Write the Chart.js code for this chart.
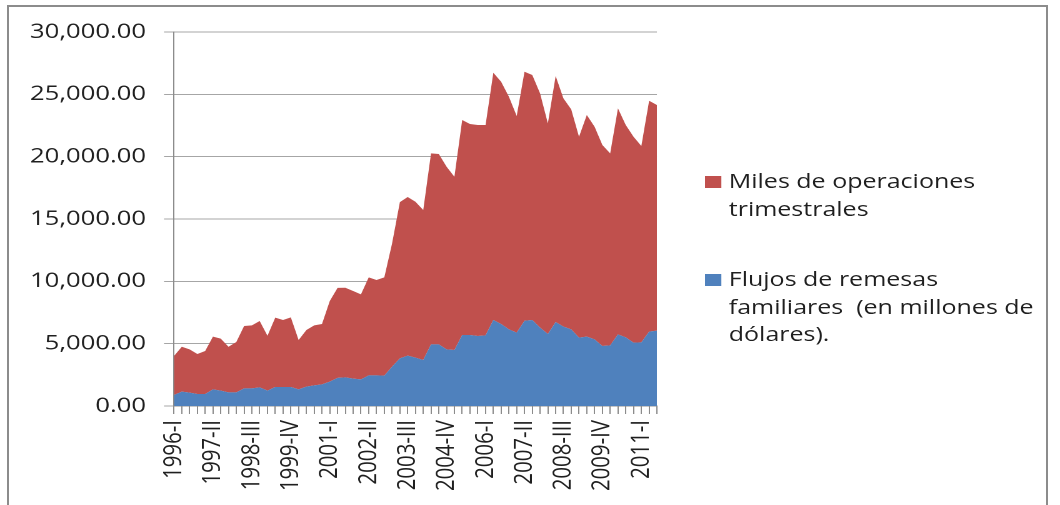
<!DOCTYPE html>
<html>
<head>
<meta charset="utf-8">
<script src="https://cdn.jsdelivr.net/npm/chart.js@4.4.1/dist/chart.umd.min.js"></script>
<style>
  html, body { margin: 0; padding: 0; background: #fff; overflow: hidden; }
  body { width: 1060px; height: 505px; position: relative; }
  #frame {
    position: absolute; left: 7px; top: 5px; width: 1041px; height: 520px;
    border: 2px solid #8c8c8c; box-sizing: border-box;
  }
  /* the reference is stretched sideways, so the whole drawing is too */
  #stage {
    position: absolute; left: 0; top: 0; width: 848px; height: 505px;
    transform: scaleX(1.25); transform-origin: 0 0;
  }
  #chart { position: absolute; left: 0; top: 0; }
  .lg-box { position: absolute; left: 564px; width: 12.5px; height: 12px; }
  .lg-text {
    position: absolute; left: 583px; font-family: 'Open Sans', sans-serif;
    font-size: 20px; line-height: 27.5px; color: #1f1f1f; white-space: pre;
  }
</style>
</head>
<body>
<div id="frame"></div>
<div id="stage">
  <canvas id="chart" width="556" height="505"></canvas>
  <div class="lg-box" style="top:176px;background:#C0504D"></div>
  <div class="lg-text" style="top:167px">Miles de operaciones
trimestrales</div>
  <div class="lg-box" style="top:274px;background:#4F81BD"></div>
  <div class="lg-text" style="top:265px">Flujos de remesas
familiares  (en millones de
dólares).</div>
</div>
<script>
  'use strict';

  const quarters = [
    '1996-I','1996-II','1996-III','1996-IV','1997-I','1997-II','1997-III','1997-IV',
    '1998-I','1998-II','1998-III','1998-IV','1999-I','1999-II','1999-III','1999-IV',
    '2000-I','2000-II','2000-III','2000-IV','2001-I','2001-II','2001-III','2001-IV',
    '2002-I','2002-II','2002-III','2002-IV','2003-I','2003-II','2003-III','2003-IV',
    '2004-I','2004-II','2004-III','2004-IV','2005-I','2005-II','2005-III','2005-IV',
    '2006-I','2006-II','2006-III','2006-IV','2007-I','2007-II','2007-III','2007-IV',
    '2008-I','2008-II','2008-III','2008-IV','2009-I','2009-II','2009-III','2009-IV',
    '2010-I','2010-II','2010-III','2010-IV','2011-I','2011-II','2011-III'
  ];

  // Flujos de remesas familiares (millones de dólares) - bottom layer
  const remesas = [
    882, 1150, 1070, 962, 962, 1337, 1230, 1096, 1096, 1417,
    1417, 1497, 1230, 1524, 1524, 1524, 1337, 1550, 1657, 1737,
    1952, 2260, 2299, 2192, 2139, 2459, 2459, 2433, 3155, 3823,
    4037, 3877, 3689, 4946, 4946, 4544, 4491, 5694, 5694, 5614,
    5667, 6897, 6576, 6149, 5882, 6843, 6897, 6282, 5774, 6737,
    6363, 6149, 5480, 5560, 5346, 4812, 4866, 5747, 5507, 5079,
    5105, 5961, 6042
  ];

  // Miles de operaciones trimestrales - stacked on top
  const operaciones = [
    3128, 3607, 3475, 3208, 3449, 4223, 4170, 3661, 4037, 4999,
    5053, 5320, 4410, 5561, 5373, 5588, 3956, 4545, 4813, 4839,
    6468, 7220, 7191, 7031, 6816, 7860, 7646, 7886, 9891, 12527,
    12725, 12510, 12030, 15318, 15264, 14651, 13902, 17243, 16922, 16922,
    16869, 19836, 19436, 18659, 17376, 19970, 19649, 18793, 16896, 19729,
    18312, 17643, 16120, 17778, 17056, 16120, 15398, 18126, 17029, 16521,
    15747, 18527, 18098
  ];

  const yTicks = [0, 5000, 10000, 15000, 20000, 25000, 30000];
  const labelEvery = 5;

  const FONT = 'Open Sans';
  const GRID = '#a6a6a6';
  const AXIS = '#8c8c8c';
  const TEXT = '#1f1f1f';

  const fmt = (v) => v.toLocaleString('en-US', { minimumFractionDigits: 2, maximumFractionDigits: 2 });

  new Chart(document.getElementById('chart').getContext('2d'), {
    type: 'line',
    data: {
      labels: quarters,
      datasets: [
        { label: 'Flujos de remesas familiares  (en millones de dólares).', data: remesas,
          fill: 'origin', backgroundColor: '#4F81BD', borderColor: 'rgba(0,0,0,0)',
          borderWidth: 0, pointRadius: 0, tension: 0 },
        { label: 'Miles de operaciones trimestrales', data: operaciones,
          fill: '-1', backgroundColor: '#C0504D', borderColor: 'rgba(0,0,0,0)',
          borderWidth: 0, pointRadius: 0, tension: 0 },
      ],
    },
    options: {
      responsive: false,
      animation: false,
      devicePixelRatio: 2,
      layout: { padding: { top: 32, right: 14.4, bottom: 0, left: 0 } },
      plugins: { legend: { display: false }, tooltip: { enabled: false } },
      scales: {
        x: {
          offset: false,
          grid: { drawOnChartArea: false, drawTicks: true, tickLength: 8, color: AXIS },
          border: { color: AXIS, width: 1 },
          ticks: {
            autoSkip: false, minRotation: 90, maxRotation: 90, padding: 6,
            color: TEXT, font: { family: FONT, size: 20.4 },
            callback: (v, i) => (i % labelEvery === 0 ? quarters[i] : ''),
          },
          afterFit: (s) => { s.height = 99; },
        },
        y: {
          stacked: true,
          min: yTicks[0], max: yTicks[yTicks.length - 1],
          afterBuildTicks: (s) => { s.ticks = yTicks.map((v) => ({ value: v })); },
          grid: { color: GRID, lineWidth: 1, drawTicks: true, tickLength: 8 },
          border: { color: AXIS, width: 1 },
          ticks: {
            padding: 14.4, color: TEXT, font: { family: FONT, size: 20.5 },
            callback: (v) => fmt(v),
          },
          afterFit: (s) => { s.width = 139.2; },
        },
      },
    },
  });
</script>
</body>
</html>
